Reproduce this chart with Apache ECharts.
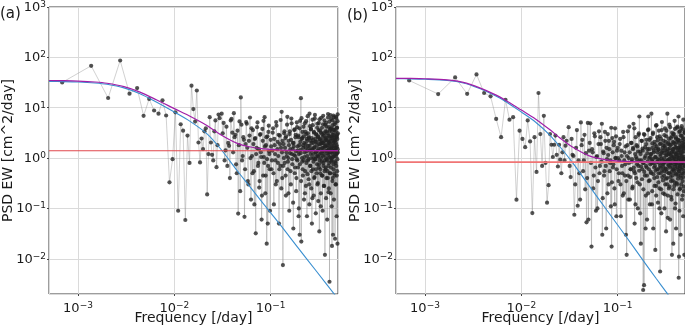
<!DOCTYPE html>
<html><head><meta charset="utf-8">
<script src="https://cdn.jsdelivr.net/npm/echarts@6/dist/echarts.min.js"></script>
<style>html,body{margin:0;padding:0;background:#fff}#c{width:685px;height:326px}</style>
</head><body><div id="c"></div>
<script>
// ---- data (frequency in 1/day, PSD in cm^2/day) ----
const freqLow = [0.000685,0.00137,0.002055,0.00274,0.003425,0.00411,0.004795,0.00548,0.006165,0.00685,
0.007534,0.008219,0.008904,0.009589,0.01027,0.01096,0.01164,0.01233,0.01301,0.0137,
0.01438,0.01507,0.01575,0.01644,0.01712,0.01781,0.01849,0.01918,0.01986,0.02055,
0.02123,0.02192,0.0226,0.02329,0.02397,0.02466,0.02534,0.02603,0.02671,0.0274,
0.02808,0.02877,0.02945];
const freqMid = [0.031,0.0325,0.034,0.0355,0.037,0.0385,0.04,0.0415,0.043,0.0445,
0.046,0.0475,0.049,0.0505,0.052,0.0535,0.055,0.0565,0.058,0.0595,
0.061,0.0625,0.064,0.0655,0.067,0.0685,0.07,0.0715,0.073,0.0745,
0.076,0.0775,0.079,0.0805,0.082,0.0835,0.085,0.0865,0.088,0.0895,
0.091,0.0925,0.094,0.0955,0.097,0.0985];
const freqMid2 = [0.03175,0.03325,0.03475,0.03625,0.03775,0.03925,0.04075,0.04225,0.04375,0.04525,
0.04675,0.04825,0.04975,0.05125,0.05275,0.05425,0.05575,0.05725,0.05875,0.06025,
0.06175,0.06325,0.06475,0.06625,0.06775,0.06925,0.07075,0.07225,0.07375,0.07525,
0.07675,0.07825,0.07975,0.08125,0.08275,0.08425,0.08575,0.08725,0.08875,0.09025,
0.09175,0.09325,0.09475,0.09625,0.09775];
const freqHigh = [0.100,0.102,0.104,0.106,0.108,0.110,0.112,0.114,0.116,0.118,0.120,0.122,0.124,0.126,0.128,0.130,0.132,0.134,0.136,0.138,
0.140,0.142,0.144,0.146,0.148,0.150,0.152,0.154,0.156,0.158,0.160,0.162,0.164,0.166,0.168,0.170,0.172,0.174,0.176,0.178,
0.180,0.182,0.184,0.186,0.188,0.190,0.192,0.194,0.196,0.198,0.200,0.202,0.204,0.206,0.208,0.210,0.212,0.214,0.216,0.218,
0.220,0.222,0.224,0.226,0.228,0.230,0.232,0.234,0.236,0.238,0.240,0.242,0.244,0.246,0.248,0.250,0.252,0.254,0.256,0.258,
0.260,0.262,0.264,0.266,0.268,0.270,0.272,0.274,0.276,0.278,0.280,0.282,0.284,0.286,0.288,0.290,0.292,0.294,0.296,0.298,
0.300,0.302,0.304,0.306,0.308,0.310,0.312,0.314,0.316,0.318,0.320,0.322,0.324,0.326,0.328,0.330,0.332,0.334,0.336,0.338,
0.340,0.342,0.344,0.346,0.348,0.350,0.352,0.354,0.356,0.358,0.360,0.362,0.364,0.366,0.368,0.370,0.372,0.374,0.376,0.378,
0.380,0.382,0.384,0.386,0.388,0.390,0.392,0.394,0.396,0.398,0.400,0.402,0.404,0.406,0.408,0.410,0.412,0.414,0.416,0.418,
0.420,0.422,0.424,0.426,0.428,0.430,0.432,0.434,0.436,0.438,0.440,0.442,0.444,0.446,0.448,0.450,0.452,0.454,0.456,0.458,
0.460,0.462,0.464,0.466,0.468,0.470,0.472,0.474,0.476,0.478,0.480,0.482,0.484,0.486,0.488,0.490,0.492,0.494,0.496,0.498];
const freqHigh2 = [0.101,0.103,0.105,0.107,0.109,0.111,0.113,0.115,0.117,0.119,0.121,0.123,0.125,0.127,0.129,0.131,0.133,0.135,0.137,0.139,
0.141,0.143,0.145,0.147,0.149,0.151,0.153,0.155,0.157,0.159,0.161,0.163,0.165,0.167,0.169,0.171,0.173,0.175,0.177,0.179,
0.181,0.183,0.185,0.187,0.189,0.191,0.193,0.195,0.197,0.199,0.201,0.203,0.205,0.207,0.209,0.211,0.213,0.215,0.217,0.219,
0.221,0.223,0.225,0.227,0.229,0.231,0.233,0.235,0.237,0.239,0.241,0.243,0.245,0.247,0.249,0.251,0.253,0.255,0.257,0.259,
0.261,0.263,0.265,0.267,0.269,0.271,0.273,0.275,0.277,0.279,0.281,0.283,0.285,0.287,0.289,0.291,0.293,0.295,0.297,0.299,
0.301,0.303,0.305,0.307,0.309,0.311,0.313,0.315,0.317,0.319,0.321,0.323,0.325,0.327,0.329,0.331,0.333,0.335,0.337,0.339,
0.341,0.343,0.345,0.347,0.349,0.351,0.353,0.355,0.357,0.359,0.361,0.363,0.365,0.367,0.369,0.371,0.373,0.375,0.377,0.379,
0.381,0.383,0.385,0.387,0.389,0.391,0.393,0.395,0.397,0.399,0.401,0.403,0.405,0.407,0.409,0.411,0.413,0.415,0.417,0.419,
0.421,0.423,0.425,0.427,0.429,0.431,0.433,0.435,0.437,0.439,0.441,0.443,0.445,0.447,0.449,0.451,0.453,0.455,0.457,0.459,
0.461,0.463,0.465,0.467,0.469,0.471,0.473,0.475,0.477,0.479,0.481,0.483,0.485,0.487,0.489,0.491,0.493,0.495,0.497,0.499];

const psdALow = [31.8,68,15.6,86.7,19,24.6,6.9,14.9,8.8,7.6,
14,7.0,0.33,0.95,8.1,0.09,4.7,3.5,0.059,2.8,
0.8,27.4,9.4,5.3,22,2.04,0.82,2.45,1.51,3.4,
3.9,0.19,1.2,6.5,2.04,1.16,0.9,3.4,5.6,0.66,
1.8,7.3,6.2];
const psdAMid = [7.6,5.0,1.42,0.7,1.75,5.6,3.2,7.8,2.9,0.5,
0.079,5.35,16,0.9,2.6,0.068,1.9,4.8,0.35,2.2,
6.4,0.15,1.1,3.6,0.55,2.4,0.032,1.6,5.1,0.8,
0.26,2.9,1.3,0.06,3.8,0.45,1.05,6.5,0.2,1.8,
0.02,2.7,0.7,4.4,1.2,0.09];
const psdAMid2 = [3.1,0.9,4.2,2.0,0.4,6.0,1.3,2.6,0.75,3.5,
1.8,0.22,4.6,1.1,2.3,0.6,5.2,1.6,0.3,2.8,
1.0,3.9,0.5,1.9,0.12,2.5,1.2,4.1,0.7,1.5,
0.35,3.0,1.05,0.18,2.2,5.5,0.8,1.7,0.45,2.6,
0.95,0.05,3.3,1.35,0.6];
const psdAHigh = [2.3,0.6,1.4,3.9,0.12,1.8,0.9,5.2,0.35,2.1,1.1,0.05,2.8,0.7,1.6,8.3,0.4,0.0075,1.9,3.1,
0.8,2.5,0.18,1.3,4.6,0.6,1.0,2.2,0.09,3.4,1.5,0.3,6.1,1.2,0.75,2.0,0.04,1.7,3.6,0.5,
1.1,2.9,0.22,0.95,4.1,1.4,0.65,2.6,0.1,1.8,0.03,5.5,1.25,15.5,0.022,2.4,0.85,3.3,0.45,1.6,
2.7,0.15,1.05,4.9,0.55,1.9,0.28,3.0,1.35,0.07,2.2,6.8,0.9,1.5,0.38,2.5,0.12,1.75,4.3,0.7,
1.2,3.7,0.25,2.0,0.05,1.45,5.8,0.6,2.3,1.0,0.18,3.2,1.6,0.42,7.2,0.95,2.1,0.08,1.3,2.9,
0.5,1.8,4.0,0.3,1.1,2.6,0.14,1.55,5.0,0.75,0.035,2.4,1.2,3.5,0.6,1.9,0.2,6.3,1.0,2.2,
0.45,3.0,1.35,0.09,2.0,4.7,0.8,1.6,0.28,2.8,1.15,5.6,0.55,0.012,1.7,3.4,0.65,2.3,0.16,1.4,
4.2,0.9,2.5,0.06,1.25,3.1,0.4,7.5,1.8,0.7,2.1,0.25,1.5,5.3,0.0035,1.05,2.7,0.5,3.8,1.3,
0.2,2.2,6.0,0.85,1.6,0.11,3.3,1.0,2.5,0.35,4.5,1.4,0.03,2.0,7.0,0.6,1.75,0.15,2.9,1.1,
3.6,0.45,2.3,0.025,1.5,5.1,0.8,2.0,0.3,6.6,1.2,2.7,0.07,1.65,4.0,0.55,2.4,0.02,7.4,1.3];
const psdAHigh2 = [1.7,0.9,3.2,0.5,2.4,1.2,0.3,4.4,1.5,0.8,2.9,0.6,1.9,5.7,0.25,1.3,2.2,0.7,1.0,3.4,
1.6,0.45,2.7,1.1,6.6,0.85,0.2,1.8,3.0,1.25,0.55,2.3,4.9,0.95,1.5,0.13,2.0,1.15,3.7,0.65,
2.6,1.35,0.4,5.1,0.9,1.7,2.8,0.07,1.2,3.9,0.75,2.1,1.45,0.35,6.2,1.0,2.5,0.6,1.8,4.2,
0.9,2.0,1.3,0.2,3.3,1.6,5.4,0.8,2.4,1.1,0.48,3.1,1.75,0.95,2.6,0.3,7.6,1.4,0.7,2.2,
3.8,1.0,0.55,2.5,1.55,0.16,4.5,1.2,2.0,0.85,3.3,0.4,1.65,6.1,0.95,2.4,1.3,0.6,3.0,1.1,
2.1,0.75,4.8,1.4,0.32,2.7,1.05,3.6,0.65,1.9,5.9,0.9,2.3,0.5,1.5,0.11,3.2,1.25,2.0,0.85,
4.0,1.6,0.45,2.6,1.1,6.9,0.7,1.95,3.1,0.28,1.35,2.2,0.9,4.6,1.7,0.6,2.5,1.0,5.0,0.4,
1.8,3.4,0.95,2.2,0.55,1.4,6.4,1.15,2.8,0.21,1.6,4.1,0.8,2.0,1.3,3.5,0.5,1.9,7.1,1.0,
2.4,0.65,3.9,1.5,0.9,2.7,0.018,1.7,5.6,1.2,0.4,2.9,1.05,3.7,0.75,2.1,6.5,1.3,0.5,2.5,
1.4,4.7,0.85,2.2,1.6,0.3,3.4,1.1,6.2,0.7,2.6,1.8,0.45,4.0,1.25,2.9,0.95,5.4,1.5,3.1];

const psdBLow = [34.8,18.7,39.9,18.9,45.8,19.6,16.8,6.0,2.6,14.4,
5.8,6.5,0.149,3.5,2.4,1.65,5.6,2.14,0.081,2.6,
0.53,19.6,3.0,0.7,6.9,0.8,0.13,0.29,3.0,1.84,
1.05,1.84,2.8,1.16,0.68,1.84,0.93,0.5,1.3,2.6,
0.9,1.76,2.2];
const psdBMid = [4.1,0.42,1.16,0.075,1.6,0.113,0.5,5.1,2.3,0.9,
0.24,0.053,5.0,1.4,4.9,0.0175,1.3,0.45,2.7,0.09,
1.1,0.35,3.4,0.7,1.9,4.8,0.16,1.25,0.55,2.2,
0.04,0.95,3.0,0.3,1.5,0.8,0.11,0.0175,2.5,0.65,
1.8,0.25,3.9,1.0,0.07,1.4];
const psdBMid2 = [0.7,2.4,1.1,0.3,3.6,0.9,0.15,1.8,0.55,2.9,
1.25,0.4,0.06,2.0,0.8,1.5,0.25,3.1,0.65,1.05,
0.1,1.9,0.5,2.6,0.85,0.03,1.35,0.45,3.3,0.7,
1.6,0.2,1.15,2.2,0.55,0.9,4.0,0.33,1.3,0.75,
2.1,0.12,1.0,2.7,0.6];
const psdBHigh = [1.6,0.35,0.9,2.4,0.07,1.1,0.5,3.3,0.2,1.3,0.75,0.03,0.012,1.8,0.45,1.0,4.2,0.15,0.6,2.0,
0.85,0.25,1.5,4.8,0.55,0.05,1.2,2.6,0.4,0.95,1.7,0.1,0.7,3.1,6.7,0.3,1.35,0.02,0.9,2.2,
0.6,1.4,0.0024,0.8,0.003,2.9,0.45,1.1,0.18,1.9,0.65,0.06,1.5,3.6,6.7,0.35,1.0,2.3,0.12,0.75,
1.2,0.5,7.6,0.9,0.22,1.6,3.0,0.04,0.8,1.3,0.4,2.1,0.7,0.015,1.05,4.4,0.28,1.7,0.6,2.6,
0.95,0.13,1.45,0.5,3.5,0.8,0.25,1.9,0.0056,1.1,0.65,2.4,0.08,1.3,5.2,0.42,0.9,1.6,0.2,0.75,
2.2,0.55,1.0,0.1,1.75,3.9,0.3,0.85,1.4,0.035,2.7,0.6,1.15,0.4,7.6,0.9,0.18,1.5,2.0,0.7,
0.25,1.25,4.6,0.5,0.95,0.06,1.8,0.8,2.5,0.35,1.1,0.15,0.7,0.012,3.2,1.35,0.45,2.1,0.9,0.02,
1.5,0.6,3.0,0.28,1.0,5.5,0.75,0.1,1.9,0.5,1.2,2.6,0.04,0.85,1.6,0.32,4.0,0.65,1.05,0.19,
2.3,0.8,1.3,0.45,6.7,0.0042,1.0,2.0,0.55,0.09,1.45,3.4,0.7,0.25,1.15,0.03,2.8,0.9,0.4,1.7,
0.6,4.3,1.1,0.15,1.8,0.8,0.35,2.5,1.0,0.07,5.8,0.5,1.35,0.22,2.1,0.95,0.012,1.6,3.2,0.7];
const psdBHigh2 = [1.0,0.5,1.9,0.3,1.4,0.7,0.18,2.6,0.9,0.45,1.7,0.35,1.1,3.4,0.15,0.8,1.3,0.42,0.6,2.0,
0.95,0.27,1.6,0.65,3.9,0.5,0.12,1.05,1.8,0.75,0.33,1.35,2.9,0.56,0.9,0.08,1.2,0.68,2.2,0.38,
1.55,0.8,0.24,3.0,0.53,1.0,1.65,0.04,0.7,2.3,0.45,1.25,0.86,0.2,3.7,0.6,1.5,0.36,1.05,2.5,
0.53,1.2,0.78,0.12,1.95,0.95,3.2,0.48,1.4,0.65,0.28,1.85,1.04,0.56,1.55,0.18,4.5,0.83,0.42,1.3,
2.25,0.6,0.33,1.5,0.92,0.1,2.7,0.7,1.2,0.5,1.95,0.24,0.98,3.6,0.56,1.4,0.77,0.36,1.8,0.65,
1.25,0.45,2.85,0.83,0.19,1.6,0.62,2.1,0.39,1.13,3.5,0.53,1.36,0.3,0.9,0.065,1.9,0.74,1.2,0.5,
2.4,0.95,0.27,1.55,0.65,4.1,0.42,1.16,1.85,0.17,0.8,1.3,0.53,2.7,1.0,0.36,1.5,0.6,3.0,0.24,
1.07,2.0,0.56,1.3,0.33,0.83,3.8,0.68,1.65,0.125,0.95,2.45,0.47,1.2,0.77,2.1,0.3,1.13,4.2,0.6,
1.42,0.39,2.3,0.9,0.53,1.6,0.011,1.0,3.3,0.71,0.24,1.7,0.62,2.2,0.45,1.25,3.9,0.77,0.3,1.5,
0.83,2.8,0.5,1.3,0.95,0.18,2.0,0.65,3.7,0.42,1.55,1.07,0.27,2.4,0.74,1.7,0.56,3.2,0.9,1.85];

// fitted model curves
const fitFreqA = [0.0005,0.0007,0.001,0.0015,0.002,0.003,0.0044,0.0065,0.01,0.0147,0.022,0.03,0.045,0.06,0.085,0.126,0.19,0.3,0.5];
const gmA      = [33.3,33.0,32.4,31.0,29.2,24.8,19.0,13.0,8.2,5.3,3.0,1.55,0.56,0.28,0.12,0.047,0.017,0.0056,0.0016];
const totalA   = [34.7,34.4,33.8,32.4,30.6,26.2,20.4,14.4,9.6,6.7,4.4,2.95,1.96,1.68,1.52,1.447,1.417,1.406,1.402];
const fitFreqB = [0.0005,0.0007,0.001,0.0017,0.0025,0.0037,0.005,0.0068,0.01,0.014,0.02,0.025,0.0333,0.05,0.077,0.12,0.185,0.25,0.324,0.5];
const gmB      = [37.6,37.4,36.8,34.8,31.0,24.0,18.5,13.5,8.2,5.2,2.8,1.7,0.86,0.29,0.093,0.029,0.0091,0.0041,0.0021,0.00066];
const totalB   = [38.4,38.2,37.6,35.6,31.8,24.8,19.3,14.3,9.0,6.0,3.6,2.53,1.69,1.12,0.923,0.859,0.839,0.834,0.832,0.831];
const wnFreq = [0.0005, 0.5];
const wnA = [1.4, 1.4];
const wnB = [0.83, 0.83];

const yDecades = [-2,-1,0,1,2,3];
const xDecades = [-3,-2,-1];
const panelLabels = ['(a)','(b)'];
const xName = 'Frequency [/day]';
const yName = 'PSD EW [cm^2/day]';

// ---- build ----
const pairs = (xs, ys) => xs.map((x, i) => [x, ys[i]]);
const byFreq = (a, b) => a[0] - b[0];
const seriesA = pairs(freqLow, psdALow).concat(pairs(freqMid, psdAMid), pairs(freqMid2, psdAMid2),
  pairs(freqHigh, psdAHigh), pairs(freqHigh2, psdAHigh2)).sort(byFreq);
const seriesB = pairs(freqLow, psdBLow).concat(pairs(freqMid, psdBMid), pairs(freqMid2, psdBMid2),
  pairs(freqHigh, psdBHigh), pairs(freqHigh2, psdBHigh2)).sort(byFreq);

const FONT = 'DejaVu Sans';
const TXT = '#1a1a1a';
function decadeLabel(list) {
  return function (v) {
    const l = Math.log10(v), e = Math.round(l);
    if (Math.abs(l - e) > 1e-6 || list.indexOf(e) < 0) return '';
    return '{b|10}{s|' + (e < 0 ? '\u2212' + (-e) : String(e)) + '}';
  };
}
const rich = {
  b: {fontFamily: FONT, fontSize: 13, color: TXT, lineHeight: 14, verticalAlign: 'bottom', padding: [4, 0, 0, 0]},
  s: {fontFamily: FONT, fontSize: 9, color: TXT, lineHeight: 10, verticalAlign: 'top'}
};
function xAxis(i) {
  return {
    type: 'log', logBase: 10, gridIndex: i, min: 0.0005, max: 0.5,
    axisLine: {show: false},
    axisTick: {show: true, length: 2, lineStyle: {color: '#444'}},
    splitLine: {show: true, lineStyle: {color: '#dadada', width: 1}},
    axisLabel: {formatter: decadeLabel(xDecades), margin: 7, rich: rich, showMinLabel: false, showMaxLabel: false},
    name: xName, nameLocation: 'middle', nameGap: 17, nameMoveOverlap: false,
    nameTextStyle: {fontFamily: FONT, fontSize: 14, color: TXT}
  };
}
function yAxis(i) {
  return {
    type: 'log', logBase: 10, gridIndex: i, min: 0.002, max: 1000,
    axisLine: {show: false},
    axisTick: {show: true, length: 2, lineStyle: {color: '#444'}},
    splitLine: {show: true, lineStyle: {color: '#dadada', width: 1}},
    axisLabel: {formatter: decadeLabel(yDecades), margin: 3, rich: rich, showMinLabel: false},
    name: yName, nameLocation: 'middle', nameGap: 34, nameMoveOverlap: false,
    nameTextStyle: {fontFamily: FONT, fontSize: 14, color: TXT}
  };
}
function dataSeries(i, data) {
  return {
    type: 'line', xAxisIndex: i, yAxisIndex: i, data: data,
    symbol: 'circle', symbolSize: 4.2, showSymbol: true, showAllSymbol: true,
    itemStyle: {color: 'rgba(35,35,35,0.78)', borderWidth: 0},
    lineStyle: {color: 'rgba(150,150,150,0.55)', width: 0.8},
    z: 2, silent: true
  };
}
function curve(i, xs, ys, color, width, z) {
  return {
    type: 'line', xAxisIndex: i, yAxisIndex: i, data: pairs(xs, ys),
    symbol: 'none', smooth: 0.3,
    lineStyle: {color: color, width: width}, z: z, silent: true
  };
}
function grid(left) {
  return {left: left, top: 7, width: 289, height: 287, containLabel: false, outerBoundsMode: 'none',
    show: true, borderColor: '#3a3a3a', borderWidth: 1, backgroundColor: 'transparent'};
}

const chart = echarts.init(document.getElementById('c'), null, {renderer: 'canvas'});
chart.setOption({
  animation: false,
  backgroundColor: '#ffffff',
  textStyle: {fontFamily: FONT},
  grid: [grid(49), grid(396)],
  xAxis: [xAxis(0), xAxis(1)],
  yAxis: [yAxis(0), yAxis(1)],
  graphic: [
    {type: 'text', left: 0, top: 7, style: {text: panelLabels[0], font: '15px "DejaVu Sans"', fill: TXT}},
    {type: 'text', left: 347, top: 9, style: {text: panelLabels[1], font: '15px "DejaVu Sans"', fill: TXT}}
  ],
  series: [
    dataSeries(0, seriesA),
    curve(0, fitFreqA, gmA, '#3a8fd0', 1.1, 3),
    curve(0, wnFreq, wnA, '#e0474c', 1.1, 3),
    curve(0, fitFreqA, totalA, '#a11fa8', 1.2, 4),
    dataSeries(1, seriesB),
    curve(1, fitFreqB, gmB, '#3a8fd0', 1.1, 3),
    curve(1, wnFreq, wnB, '#f07575', 1.7, 3),
    curve(1, fitFreqB, totalB, '#a11fa8', 1.2, 4)
  ]
});
</script>
</body></html>
